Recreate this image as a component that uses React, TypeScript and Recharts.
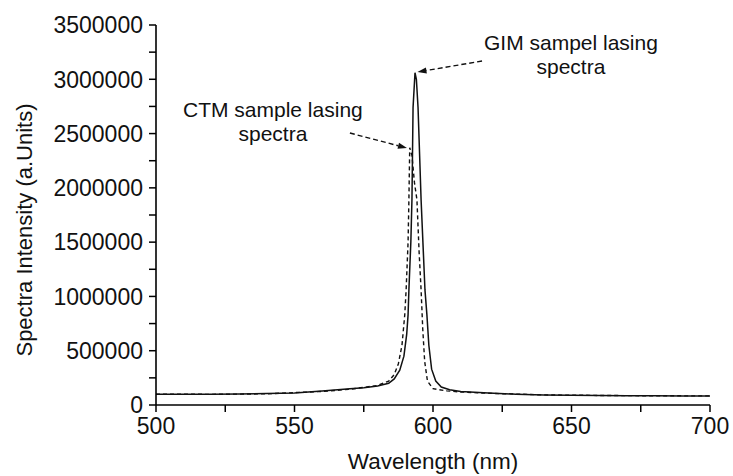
import React from 'react';
import { LineChart, Line, XAxis, YAxis, ReferenceLine, ReferenceDot, Label } from 'recharts';

// GIM sample (solid line)
const gimWavelength = [500, 510, 520, 530, 540, 550, 560, 570, 575, 580, 584, 586, 588, 589.5, 590.5, 591, 591.3, 592, 592.4, 592.8, 593.5, 594, 594.6, 595.7, 597.1, 597.8, 598.5, 599.5, 601, 603, 606, 610, 620, 630, 640, 650, 660, 670, 680, 690, 700];
const gimIntensity = [100000, 100000, 100000, 102000, 105000, 110000, 130000, 150000, 160000, 175000, 200000, 240000, 320000, 450000, 650000, 830000, 1060000, 1500000, 1890000, 2740000, 3060000, 3000000, 2740000, 1890000, 1060000, 830000, 550000, 330000, 220000, 165000, 140000, 125000, 110000, 100000, 93000, 90000, 88000, 86000, 85000, 84000, 84000];

// CTM sample (dashed line)
const ctmWavelength = [500, 520, 540, 560, 570, 580, 584, 586, 587.5, 588.8, 589.8, 590.3, 591, 591.3, 591.6, 592.4, 593.3, 594.2, 595, 595.7, 596.3, 597, 598, 600, 605, 610, 620, 640, 660, 680, 700];
const ctmIntensity = [100000, 98000, 103000, 125000, 145000, 180000, 220000, 280000, 380000, 550000, 830000, 1060000, 1500000, 1890000, 2370000, 2300000, 2050000, 1890000, 1400000, 1060000, 700000, 400000, 220000, 150000, 130000, 120000, 108000, 93000, 88000, 85000, 84000];

const xTicks = [500, 525, 550, 575, 600, 625, 650, 675, 700];
const yTicks = [0, 250000, 500000, 750000, 1000000, 1250000, 1500000, 1750000, 2000000, 2250000, 2500000, 2750000, 3000000, 3250000, 3500000];

const gimData = gimWavelength.map((w, i) => ({ w, v: gimIntensity[i] }));
const ctmData = ctmWavelength.map((w, i) => ({ w, v: ctmIntensity[i] }));

const INK = '#111';
const FONT = 'Arial, "Liberation Sans", Helvetica, sans-serif';

// only label the major ticks
const YTick = (props: any) => {
  const { x, y, payload } = props;
  if (payload.value % 500000 !== 0) return <g />;
  return (
    <text x={x} y={y} dy="0.36em" textAnchor="end" fontSize={23} fontFamily={FONT} fill={INK}>
      {payload.value}
    </text>
  );
};

const XTick = (props: any) => {
  const { x, y, payload } = props;
  if (payload.value % 50 !== 0) return <g />;
  return (
    <text x={x} y={y} dy="0.71em" textAnchor="middle" fontSize={23} fontFamily={FONT} fill={INK}>
      {payload.value}
    </text>
  );
};

const Arrow = (props: any) => {
  const { x1, y1, x2, y2 } = props;
  const a = Math.atan2(y2 - y1, x2 - x1);
  const len = 9;
  const half = 3;
  const bx = x2 - len * Math.cos(a);
  const by = y2 - len * Math.sin(a);
  const pts = `${x2},${y2} ${bx - half * Math.sin(a)},${by + half * Math.cos(a)} ${bx + half * Math.sin(a)},${by - half * Math.cos(a)}`;
  return (
    <g>
      <line x1={x1} y1={y1} x2={bx} y2={by} stroke={INK} strokeWidth={1.4} strokeDasharray="5 3" />
      <polygon points={pts} fill={INK} />
    </g>
  );
};

const noteText = (lines: string[]) => (props: any) => {
  const { cx, cy } = props;
  return (
    <text x={cx} y={cy} textAnchor="middle" fontSize={21} fontFamily={FONT} fill={INK}>
      {lines.map((t, i) => (
        <tspan key={i} x={cx} dy={i === 0 ? 0 : 24}>{t}</tspan>
      ))}
    </text>
  );
};

export default function App() {
  return (
    <div style={{ position: 'absolute', left: 0, top: 0, background: '#fff' }}>
      <LineChart width={733} height={476} margin={{ top: 25, right: 23, left: 0, bottom: 0 }}>
        <XAxis
          dataKey="w"
          type="number"
          domain={[500, 700]}
          ticks={xTicks}
          allowDataOverflow
          height={71}
          tickSize={7}
          tickMargin={6}
          tickLine={{ stroke: '#000', strokeWidth: 1.5 }}
          tick={<XTick />}
          axisLine={{ stroke: '#000', strokeWidth: 1.6 }}
        >
          <Label
            content={({ viewBox }: any) => (
              <text x={viewBox.x + viewBox.width / 2} y={viewBox.y + 64} textAnchor="middle" fontSize={22.5} fontFamily={FONT} fill={INK}>
                Wavelength (nm)
              </text>
            )}
          />
        </XAxis>
        <YAxis
          dataKey="v"
          type="number"
          domain={[0, 3500000]}
          ticks={yTicks}
          width={156}
          tickSize={7}
          tickMargin={6}
          tickLine={{ stroke: '#000', strokeWidth: 1.5 }}
          tick={<YTick />}
          axisLine={{ stroke: '#000', strokeWidth: 1.6 }}
        >
          <Label
            content={({ viewBox }: any) => {
              const cx = 32;
              const cy = viewBox.y + viewBox.height / 2 + 15;
              return (
                <text x={cx} y={cy} transform={`rotate(-90 ${cx} ${cy})`} textAnchor="middle" fontSize={22} fontFamily={FONT} fill={INK}>
                  Spectra Intensity (a.Units)
                </text>
              );
            }}
          />
        </YAxis>
        <Line
          data={ctmData}
          dataKey="v"
          type="linear"
          stroke={INK}
          strokeWidth={1.4}
          strokeDasharray="4 3"
          dot={false}
          isAnimationActive={false}
        />
        <Line
          data={gimData}
          dataKey="v"
          type="linear"
          stroke={INK}
          strokeWidth={1.5}
          dot={false}
          isAnimationActive={false}
        />
        <ReferenceLine segment={[{ x: 617.7, y: 3168000 }, { x: 594.4, y: 3067000 }]} shape={Arrow} ifOverflow="visible" />
        <ReferenceLine segment={[{ x: 570, y: 2505000 }, { x: 590.6, y: 2367000 }]} shape={Arrow} ifOverflow="visible" />
        <ReferenceDot x={649.8} y={3270000} r={0} shape={noteText(['GIM sampel lasing', 'spectra'])} ifOverflow="visible" />
        <ReferenceDot x={542.2} y={2653000} r={0} shape={noteText(['CTM sample lasing', 'spectra'])} ifOverflow="visible" />
      </LineChart>
    </div>
  );
}
